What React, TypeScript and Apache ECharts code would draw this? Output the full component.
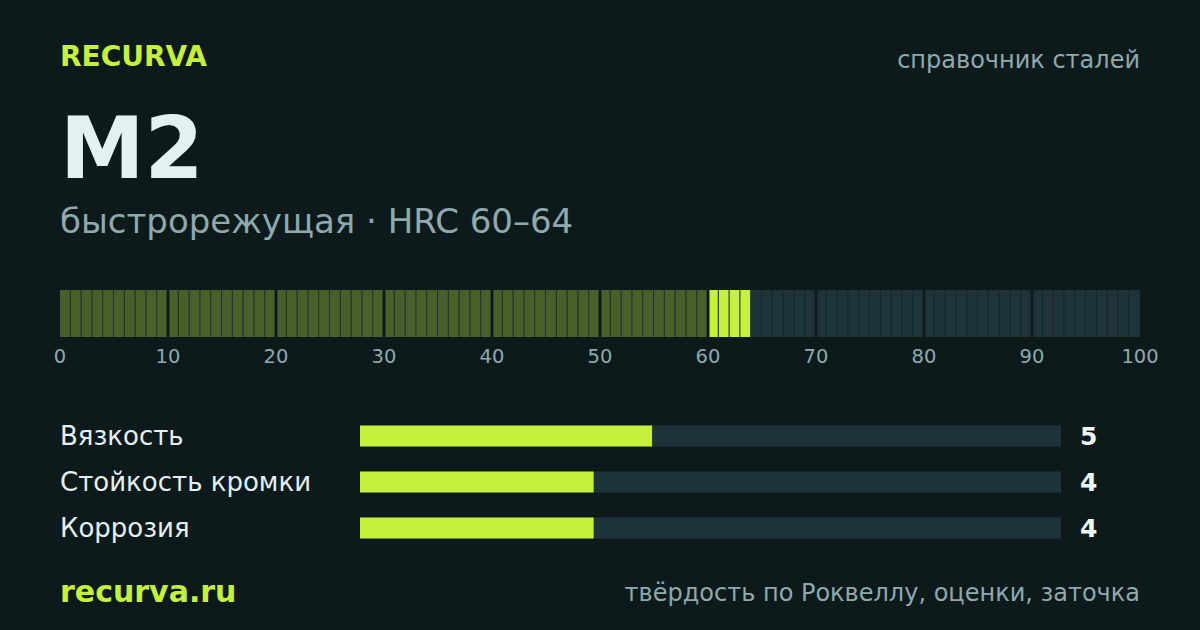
import React, { useEffect, useRef } from "react";
import * as echarts from "echarts";

const brand = "RECURVA";
const kicker = "справочник сталей";
const steelName = "M2";
const subtitle = "быстрорежущая · HRC 60–64";
const footerLeft = "recurva.ru";
const footerRight = "твёрдость по Роквеллу, оценки, заточка";

const hrcMin = 60;
const hrcMax = 64;
const scaleMin = 0;
const scaleMax = 100;
const scaleStep = 10;

const traitNames = ["Вязкость", "Стойкость кромки", "Коррозия"];
const traitScores = [5, 4, 4];
const traitMax = 12;

const BG = "#0d1a1c";
const LIME = "#c5f03c";
const OLIVE = "#4a5f29";
const TEAL = "#1e343a";
const MUTED = "#8fa9ad";
const WHITE = "#e4f0f1";
const FONT = "DejaVu Sans";

// one cell per HRC unit: [start, kind] kind 0=below range, 1=in range, 2=above
const cells: number[][] = [];
for (let i = scaleMin; i < scaleMax; i++) {
  const kind = i < hrcMin ? 0 : i < hrcMax ? 1 : 2;
  cells.push([i, kind]);
}

export default function App() {
  const ref = useRef<HTMLDivElement>(null);
  useEffect(() => {
    document.body.style.margin = "0";
    document.body.style.background = BG;
    const chart = echarts.init(ref.current!, null, { renderer: "svg" });
    const option: any = {
      animation: false,
      backgroundColor: BG,
      textStyle: { fontFamily: FONT },
      graphic: [
        { type: "text", left: 60, top: 42, style: { text: brand, fill: LIME, font: `bold 28px '${FONT}'` } },
        { type: "text", right: 60, top: 48, style: { text: kicker, fill: MUTED, font: `24px '${FONT}'` } },
        { type: "text", left: 60, top: 106, style: { text: steelName, fill: WHITE, font: `bold 85px '${FONT}'` } },
        { type: "text", left: 60, top: 204, style: { text: subtitle, fill: MUTED, font: `34px '${FONT}'` } },
        { type: "text", left: 60, top: 576, style: { text: footerLeft, fill: LIME, font: `bold 30px '${FONT}'` } },
        { type: "text", right: 60, top: 581, style: { text: footerRight, fill: MUTED, font: `24px '${FONT}'` } },
      ],
      grid: [
        { left: 60, width: 1080, top: 290, height: 47 },
        { left: 360, width: 701, top: 413, height: 138 },
      ],
      xAxis: [
        {
          gridIndex: 0, type: "value", min: scaleMin, max: scaleMax, interval: scaleStep,
          axisLine: { show: false }, axisTick: { show: false }, splitLine: { show: false },
          axisLabel: { color: MUTED, fontSize: 19.5, margin: 9, fontFamily: FONT },
        },
        { gridIndex: 1, type: "value", min: 0, max: traitMax, show: false },
      ],
      yAxis: [
        { gridIndex: 0, type: "value", min: 0, max: 1, show: false },
        {
          gridIndex: 1, type: "category", data: traitNames, inverse: true,
          axisLine: { show: false }, axisTick: { show: false },
          axisLabel: { color: WHITE, fontSize: 26, align: "left", margin: 300, fontFamily: FONT },
        },
        {
          gridIndex: 1, type: "category", data: traitScores.map(String), inverse: true, position: "right",
          axisLine: { show: false }, axisTick: { show: false },
          axisLabel: { color: "#eef6f6", fontSize: 25, fontWeight: "bold", align: "left", margin: 19, fontFamily: FONT },
        },
      ],
      series: [
        {
          type: "custom",
          xAxisIndex: 0, yAxisIndex: 0,
          data: cells,
          renderItem: (params: any, api: any) => {
            const s = api.value(0);
            const kind = api.value(1);
            const p0 = api.coord([s, 1]);
            const p1 = api.coord([s + 1, 0]);
            const groupEnd = (s + 1) % scaleStep === 0 && s + 1 < scaleMax;
            const groupStart = s % scaleStep === 0 && s > scaleMin;
            const x0 = p0[0] + (groupStart ? 1.5 : 0);
            const full = p1[0] - x0 - (groupEnd ? 1.5 : 0);
            const h = p1[1] - p0[1];
            const color = kind === 0 ? OLIVE : kind === 1 ? LIME : TEAL;
            const gapColor = kind === 0 ? "#1f3034" : kind === 1 ? BG : "#15262a";
            const last = s + 1 === scaleMax;
            return {
              type: "group",
              children: [
                { type: "rect", shape: { x: x0, y: p0[1], width: full, height: h }, style: { fill: gapColor } },
                { type: "rect", shape: { x: x0, y: p0[1], width: last || groupEnd ? full : full - 1, height: h }, style: { fill: color } },
              ],
            };
          },
        },
        {
          type: "bar",
          xAxisIndex: 1, yAxisIndex: 1,
          data: traitScores,
          barWidth: 21,
          itemStyle: { color: LIME },
          showBackground: true,
          backgroundStyle: { color: TEAL },
        },
      ],
    };
    chart.setOption(option);
    return () => chart.dispose();
  }, []);
  return <div ref={ref} style={{ width: 1200, height: 630 }} />;
}
